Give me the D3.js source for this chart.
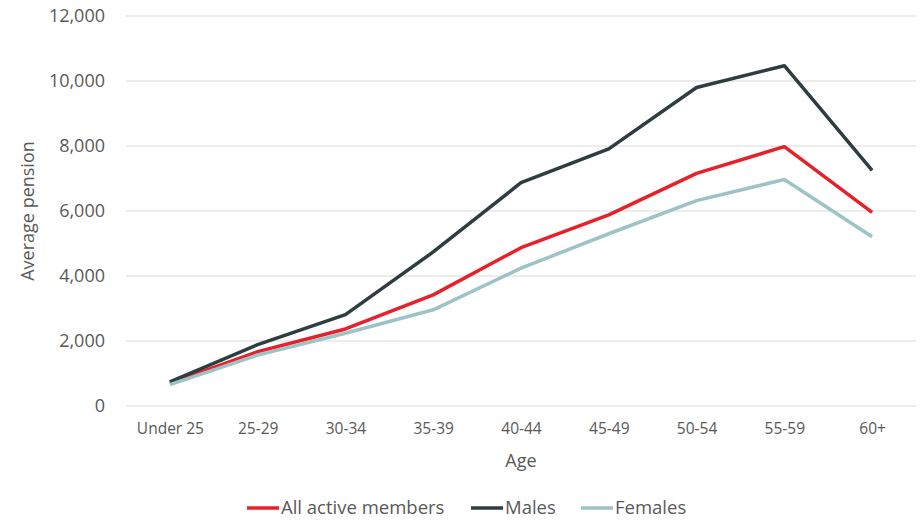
<!DOCTYPE html>
<html>
<head>
<meta charset="utf-8">
<script src="https://cdn.jsdelivr.net/npm/d3@7"></script>
<style>
  body { margin: 0; background: #fff; }
  text { font-family: "Open Sans", "Liberation Sans", sans-serif; fill: #595959; }
</style>
</head>
<body>
<div id="chart"></div>
<script>
// data
var ages = ["Under 25", "25-29", "30-34", "35-39", "40-44", "45-49", "50-54", "55-59", "60+"];
var allMembers = [700, 1670, 2370, 3420, 4870, 5880, 7160, 7980, 5960];
var males = [740, 1890, 2810, 4740, 6870, 7910, 9800, 10470, 7250];
var females = [660, 1570, 2240, 2960, 4240, 5300, 6320, 6970, 5210];
var yTicks = [0, 2000, 4000, 6000, 8000, 10000, 12000];

var seriesNames = ["All active members", "Males", "Females"];
var seriesColors = ["#E8202A", "#2E3D3F", "#9DC3C6"];
var seriesData = [allMembers, males, females];

// svg container
var svgWidth = 924;
var svgHeight = 520;

var margin = { top: 16, right: 8, bottom: 114, left: 126 };
var width = svgWidth - margin.left - margin.right;
var height = svgHeight - margin.top - margin.bottom;

var svg = d3.select("#chart")
  .append("svg")
  .attr("width", svgWidth)
  .attr("height", svgHeight);

var chartGroup = svg.append("g")
  .attr("transform", `translate(${margin.left}, ${margin.top})`);

// scales
var xScale = d3.scalePoint()
  .domain(ages)
  .range([0, width])
  .padding(0.5);

var yScale = d3.scaleLinear()
  .domain([0, 12000])
  .range([height, 0]);

// gridlines
chartGroup.selectAll(".grid")
  .data(yTicks)
  .enter()
  .append("line")
  .attr("x1", 0)
  .attr("x2", width)
  .attr("y1", d => yScale(d))
  .attr("y2", d => yScale(d))
  .attr("stroke", "#D9D9D9")
  .attr("stroke-width", 1);

// y axis
var leftAxis = d3.axisLeft(yScale)
  .tickValues(yTicks)
  .tickFormat(d3.format(","))
  .tickSize(0)
  .tickPadding(21);

var yAxis = chartGroup.append("g").call(leftAxis);
yAxis.select(".domain").remove();
yAxis.selectAll("text")
  .style("font-size", "18px")
  .attr("fill", "#595959");

// x axis
var bottomAxis = d3.axisBottom(xScale)
  .tickSize(0)
  .tickPadding(17);

var xAxis = chartGroup.append("g")
  .attr("transform", `translate(0, ${height})`)
  .call(bottomAxis);
xAxis.select(".domain").remove();
xAxis.selectAll("text")
  .style("font-size", "15.5px")
  .attr("fill", "#595959");

// axis titles
chartGroup.append("text")
  .attr("transform", "rotate(-90)")
  .attr("x", -height / 2)
  .attr("y", -92)
  .attr("text-anchor", "middle")
  .style("font-size", "18px")
  .text("Average pension");

chartGroup.append("text")
  .attr("x", width / 2)
  .attr("y", height + 61)
  .attr("text-anchor", "middle")
  .style("font-size", "18px")
  .text("Age");

// lines
var line = d3.line()
  .x((d, i) => xScale(ages[i]))
  .y(d => yScale(d));

seriesData.forEach(function(values, i) {
  chartGroup.append("path")
    .datum(values)
    .attr("fill", "none")
    .attr("stroke", seriesColors[i])
    .attr("stroke-width", 3.5)
    .attr("stroke-linejoin", "round")
    .attr("d", line);
});

// legend
var legendX = [247, 471, 581];
var legend = svg.append("g").attr("transform", "translate(0, 508)");

seriesNames.forEach(function(name, i) {
  legend.append("line")
    .attr("x1", legendX[i])
    .attr("x2", legendX[i] + 32)
    .attr("y1", 0)
    .attr("y2", 0)
    .attr("stroke", seriesColors[i])
    .attr("stroke-width", 3.5);
  legend.append("text")
    .attr("x", legendX[i] + 34)
    .attr("y", 0)
    .attr("dy", "0.35em")
    .style("font-size", "18.5px")
    .text(name);
});
</script>
</body>
</html>
